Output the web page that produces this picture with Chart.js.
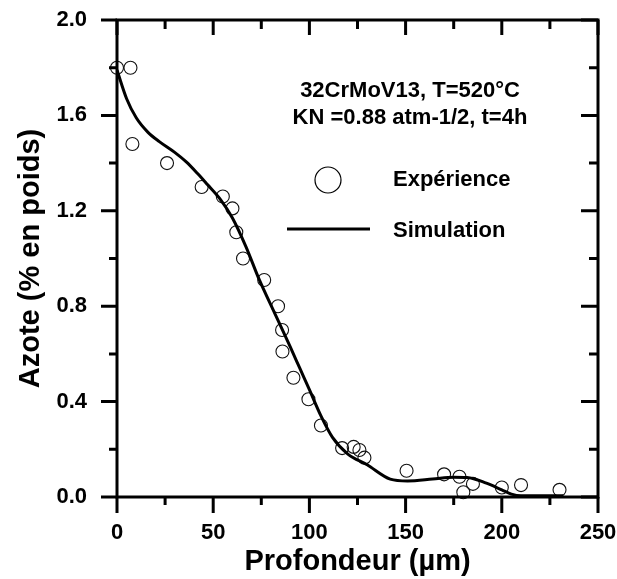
<!DOCTYPE html>
<html>
<head>
<meta charset="utf-8">
<script src="https://cdn.jsdelivr.net/npm/chart.js@4.4.1/dist/chart.umd.min.js"></script>
<style>
  html, body { margin: 0; padding: 0; background: #fff; }
  #wrap { width: 617px; height: 579px; }
</style>
</head>
<body>
<div id="wrap"><canvas id="azoteChart" width="617" height="579"></canvas></div>
<script>
// measured points (depth in um, nitrogen wt%)
const expDepth = [0, 7, 8, 26, 44, 55, 60, 62, 65.5, 76.5, 83.7, 85.8, 86, 91.7, 99.5, 106, 117, 123, 126, 128.6, 150.5, 170, 178, 180, 185, 200, 210, 230];
const expAzote = [1.80, 1.80, 1.48, 1.40, 1.30, 1.26, 1.21, 1.11, 1.00, 0.91, 0.80, 0.70, 0.61, 0.50, 0.41, 0.30, 0.205, 0.21, 0.197, 0.165, 0.11, 0.095, 0.085, 0.02, 0.055, 0.04, 0.05, 0.03];

// simulated profile
const simDepth = [0, 5, 10, 16, 22, 30, 36, 42, 47, 54, 60, 67, 74, 82, 90, 95, 100, 106, 112, 120, 130, 142, 151, 164, 175, 182, 192, 200, 205, 210, 232];
const simAzote = [1.79, 1.67, 1.59, 1.53, 1.49, 1.445, 1.405, 1.355, 1.31, 1.245, 1.17, 1.05, 0.91, 0.77, 0.63, 0.54, 0.45, 0.34, 0.25, 0.18, 0.135, 0.075, 0.067, 0.075, 0.083, 0.082, 0.058, 0.03, 0.012, 0.005, 0.005];

const xTicks = [0, 50, 100, 150, 200, 250];
const yTicks = [0.0, 0.4, 0.8, 1.2, 1.6, 2.0];

const FONT = "'Liberation Sans', Arial, Helvetica, sans-serif";

const toPts = (xs, ys) => xs.map((x, i) => ({ x: x, y: ys[i] }));

// label overhang would push the plot area in; layout padding handles it
const noPad = s => { s.paddingTop = 0; s.paddingBottom = 0; s.paddingLeft = 0; s.paddingRight = 0; };

// frame, inside/outside ticks, legend and annotation
const framePlugin = {
    id: "frame",
    afterDraw(chart) {
        const ctx = chart.ctx;
        const a = chart.chartArea;
        const xs = chart.scales.x, ys = chart.scales.y;
        ctx.save();
        ctx.strokeStyle = "#000";
        ctx.lineWidth = 3;
        ctx.lineCap = "butt";
        ctx.strokeRect(a.left, a.top, a.right - a.left, a.bottom - a.top);

        ctx.beginPath();
        // x ticks: outside at bottom, inside at top
        for (let v = 0; v <= 250; v += 25) {
            const px = xs.getPixelForValue(v);
            const major = v % 50 === 0;
            ctx.moveTo(px, a.bottom);
            ctx.lineTo(px, a.bottom + (major ? 16 : 8));
            ctx.moveTo(px, a.top);
            ctx.lineTo(px, a.top + (major ? 15 : 9));
        }
        // y ticks: outside at left, inside at right
        for (let i = 0; i <= 10; i++) {
            const v = i * 0.2;
            const py = ys.getPixelForValue(v);
            const major = i % 2 === 0;
            ctx.moveTo(a.left, py);
            ctx.lineTo(a.left - (major ? 16 : 8), py);
            ctx.moveTo(a.right, py);
            ctx.lineTo(a.right - (major ? 17 : 9), py);
        }
        ctx.stroke();

        // annotation text
        ctx.fillStyle = "#000";
        ctx.font = "bold 22px " + FONT;
        ctx.textAlign = "center";
        ctx.textBaseline = "middle";
        ctx.fillText("32CrMoV13, T=520°C", a.left + 293, a.top + 71);
        ctx.fillText("KN =0.88 atm-1/2, t=4h", a.left + 293, a.top + 98);

        // legend
        ctx.lineWidth = 1.2;
        ctx.beginPath();
        ctx.arc(a.left + 211, a.top + 160, 13, 0, Math.PI * 2);
        ctx.stroke();
        ctx.lineWidth = 3;
        ctx.beginPath();
        ctx.moveTo(a.left + 170, a.top + 209);
        ctx.lineTo(a.left + 253, a.top + 209);
        ctx.stroke();
        ctx.textAlign = "left";
        ctx.fillText("Expérience", a.left + 276, a.top + 160);
        ctx.fillText("Simulation", a.left + 276, a.top + 211);
        ctx.restore();
    }
};

new Chart(document.getElementById("azoteChart"), {
    type: "scatter",
    data: {
        datasets: [
            {
                label: "Simulation",
                type: "line",
                data: toPts(simDepth, simAzote),
                borderColor: "#000",
                borderWidth: 3,
                pointRadius: 0,
                fill: false,
                cubicInterpolationMode: "monotone"
            },
            {
                label: "Expérience",
                data: toPts(expDepth, expAzote),
                pointStyle: "circle",
                pointRadius: 6.5,
                pointBorderWidth: 1.1,
                pointBorderColor: "#111",
                pointBackgroundColor: "rgba(0,0,0,0)",
                clip: false
            }
        ]
    },
    options: {
        responsive: false,
        animation: false,
        layout: { padding: { top: 20, right: 19, left: 0, bottom: 0 } },
        plugins: {
            legend: { display: false },
            tooltip: { enabled: false }
        },
        scales: {
            x: {
                type: "linear",
                min: 0,
                max: 250,
                afterBuildTicks: s => { s.ticks = xTicks.map(v => ({ value: v })); },
                afterFit: s => { s.height = 82; noPad(s); },
                grid: { display: false, drawTicks: false },
                border: { display: false },
                ticks: {
                    padding: 23,
                    color: "#000",
                    font: { family: FONT, size: 22, weight: "bold" }
                },
                title: {
                    display: true,
                    text: "Profondeur (µm)",
                    color: "#000",
                    padding: { top: 0, bottom: 0 },
                    font: { family: FONT, size: 29, weight: "bold" }
                }
            },
            y: {
                type: "linear",
                min: 0,
                max: 2,
                afterBuildTicks: s => { s.ticks = yTicks.map(v => ({ value: v })); },
                afterFit: s => { s.width = 117; noPad(s); },
                grid: { display: false, drawTicks: false },
                border: { display: false },
                ticks: {
                    padding: 30,
                    color: "#000",
                    font: { family: FONT, size: 22, weight: "bold" },
                    callback: v => v.toFixed(1)
                },
                title: {
                    display: true,
                    text: "Azote (% en poids)",
                    color: "#000",
                    padding: { top: 14, bottom: 0 },
                    font: { family: FONT, size: 29, weight: "bold" }
                }
            }
        }
    },
    plugins: [framePlugin]
});
</script>
</body>
</html>
